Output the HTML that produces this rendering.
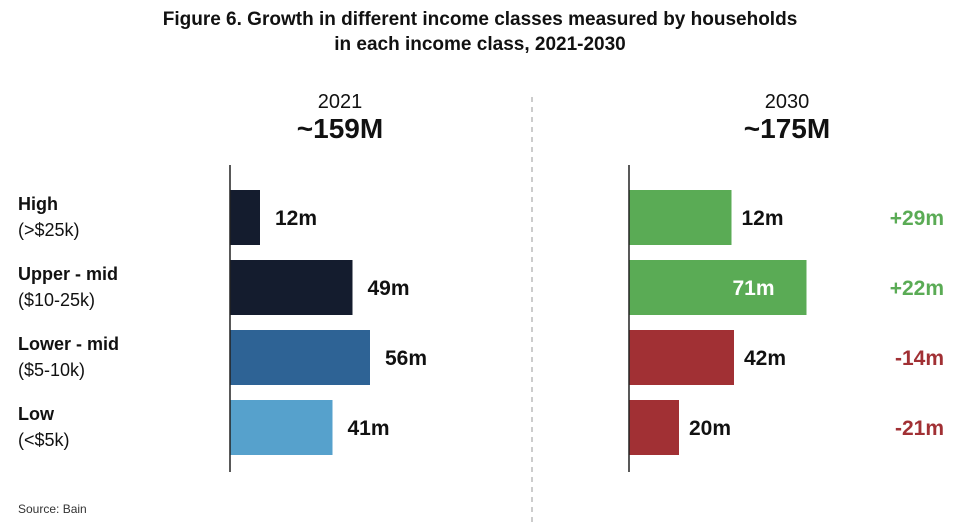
<!DOCTYPE html>
<html><head><meta charset="utf-8"><style>
body{margin:0;background:#fff;width:960px;height:524px;overflow:hidden;font-family:"Liberation Sans",sans-serif}
</style></head><body>
<svg id="chart" width="960" height="524" viewBox="0 0 960 524">
<text x="480" y="25" text-anchor="middle" font-size="19" font-weight="bold" fill="#111">Figure 6. Growth in different income classes measured by households</text>
<text x="480" y="50" text-anchor="middle" font-size="19" font-weight="bold" fill="#111">in each income class, 2021-2030</text>
<line x1="532" y1="97" x2="532" y2="524" stroke="#bbb" stroke-width="1.5" stroke-dasharray="5,5"/>
<text x="340" y="108" text-anchor="middle" font-size="20" fill="#111">2021</text>
<text x="340" y="138" text-anchor="middle" font-size="28" font-weight="bold" fill="#111">~159M</text>
<text x="787" y="108" text-anchor="middle" font-size="20" fill="#111">2030</text>
<text x="787" y="138" text-anchor="middle" font-size="28" font-weight="bold" fill="#111">~175M</text>
<text x="18" y="513" font-size="12" fill="#333">Source: Bain</text>
<g id="marks"></g>
</svg>
<script>
const categories = ["High", "Upper - mid", "Lower - mid", "Low"];
const subLabels = ["(>$25k)", "($10-25k)", "($5-10k)", "(<$5k)"];
const values2021 = [12, 49, 56, 41];
const values2030 = [41, 71, 42, 20];
const labels2030 = ["12m", "71m", "42m", "20m"];
const changes = ["+29m", "+22m", "-14m", "-21m"];

const NS = "http://www.w3.org/2000/svg";
const g = document.getElementById("marks");
const scale = 2.5;
const left1 = 230, left2 = 629;
const rowY = i => 190 + i * 70;
const barH = 55;
const xLen = v => v * scale;
const colors2021 = ["#141c2e", "#141c2e", "#2e6395", "#56a1cc"];
const green = "#5aab55", red = "#a13034";

function mk(tag, attrs, text) {
  const e = document.createElementNS(NS, tag);
  for (const k in attrs) e.setAttribute(k, attrs[k]);
  if (text !== undefined) e.textContent = text;
  g.appendChild(e);
  return e;
}

categories.forEach((c, i) => {
  const y = rowY(i);
  let t = mk("text", {x: 18, y: y + 20, "font-size": 18, "font-weight": "bold", fill: "#111"}, c);
  
  
  t = mk("text", {x: 18, y: y + 46, "font-size": 18, fill: "#111"}, subLabels[i]);
  
  

  const w1 = xLen(values2021[i]);
  let r = mk("rect", {x: left1, y: y, width: w1, height: barH, fill: colors2021[i]});
  
  
  t = mk("text", {x: left1 + w1 + 15, y: y + 35, "font-size": 21, "font-weight": "bold", fill: "#111"}, values2021[i] + "m");
  
  

  const up = changes[i].startsWith("+");
  const w2 = xLen(values2030[i]);
  r = mk("rect", {x: left2, y: y, width: w2, height: barH, fill: up ? green : red});
  
  
  const inside = w2 > 150;
  t = inside
    ? mk("text", {x: left2 + w2 - 32, y: y + 35, "font-size": 21, "font-weight": "bold", fill: "#fff", "text-anchor": "end"}, labels2030[i])
    : mk("text", {x: left2 + w2 + 10, y: y + 35, "font-size": 21, "font-weight": "bold", fill: "#111"}, labels2030[i]);
  
  
  t = mk("text", {x: 944, y: y + 35, "font-size": 21, "font-weight": "bold", fill: up ? green : red, "text-anchor": "end"}, changes[i]);
  
  
});

let a = mk("line", {x1: left1, y1: 165, x2: left1, y2: 472, stroke: "#222", "stroke-width": 1.5});


a = mk("line", {x1: left2, y1: 165, x2: left2, y2: 472, stroke: "#222", "stroke-width": 1.5});


</script>
</body></html>
